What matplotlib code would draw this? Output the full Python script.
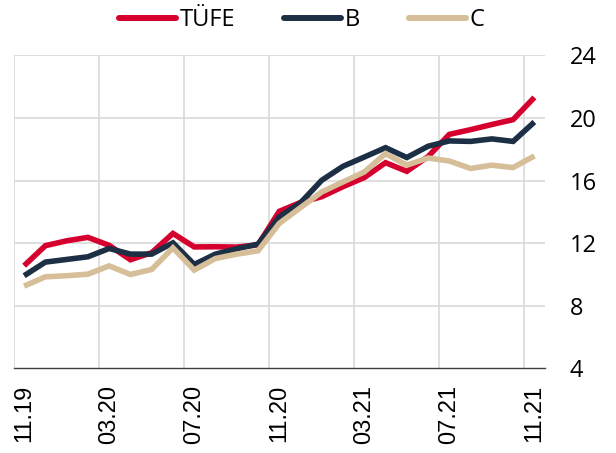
import matplotlib
matplotlib.use("Agg")
import matplotlib.pyplot as plt
from matplotlib.lines import Line2D

months = ["11.19", "12.19", "01.20", "02.20", "03.20", "04.20", "05.20", "06.20",
          "07.20", "08.20", "09.20", "10.20", "11.20", "12.20", "01.21", "02.21",
          "03.21", "04.21", "05.21", "06.21", "07.21", "08.21", "09.21", "10.21", "11.21"]
tufe = [10.56, 11.84, 12.15, 12.37, 11.86, 10.94, 11.39, 12.62, 11.76, 11.77, 11.75, 11.89,
        14.03, 14.60, 14.97, 15.61, 16.19, 17.14, 16.59, 17.53, 18.95, 19.25, 19.58, 19.89, 21.31]
b_core = [9.92, 10.79, 10.96, 11.13, 11.66, 11.30, 11.30, 12.02, 10.64, 11.30, 11.64, 11.94,
          13.68, 14.58, 16.02, 16.91, 17.50, 18.10, 17.47, 18.19, 18.53, 18.50, 18.66, 18.50, 19.74]
c_core = [9.26, 9.85, 9.92, 10.02, 10.55, 10.00, 10.32, 11.70, 10.28, 11.02, 11.30, 11.51,
          13.26, 14.27, 15.27, 15.91, 16.55, 17.72, 16.98, 17.44, 17.25, 16.77, 16.98, 16.83, 17.57]
series_names = ["TÜFE", "B", "C"]
colors = ["#D6002E", "#1C2F45", "#D5BE98"]
yticks = [4, 8, 12, 16, 20, 24]

fig = plt.figure(figsize=(6.16, 4.53), dpi=100)
ax = fig.add_axes([13.5 / 616, 1 - 368.4 / 453, (545 - 13.5) / 616, (368.4 - 55.3) / 453])

x = list(range(len(months)))
lw = 4.0
for data, col in zip([tufe, b_core, c_core], colors):
    ax.plot(x, data, color=col, lw=lw, solid_joinstyle="miter", solid_capstyle="butt", zorder=3)

ax.set_xlim(-0.5, len(months) - 0.5)
ax.set_ylim(4, 24)

# grid
for gx in range(0, len(months) + 1, 4):
    ax.axvline(gx - 0.5, color="#D9D9D9", lw=1.2, zorder=1)
for gy in yticks[1:]:
    ax.axhline(gy, color="#D9D9D9", lw=1.2, zorder=1)

for s in ["top", "left", "right"]:
    ax.spines[s].set_visible(False)
ax.spines["bottom"].set_color("#404040")
ax.spines["bottom"].set_linewidth(1.0)
ax.spines["bottom"].set_zorder(4)

ax.set_xticks(x[::4])
ax.set_xticklabels(months[::4], rotation=90, fontsize=17, family="Liberation Sans", va="top")
ax.tick_params(axis="x", length=0, pad=12)

ax.yaxis.tick_right()
ax.set_yticks(yticks)
ax.set_yticklabels([str(v) for v in yticks], fontsize=17, family="Open Sans")
ax.tick_params(axis="y", length=0, pad=18)

handles = [Line2D([0], [0], color=c, lw=4.3, solid_capstyle="round") for c in colors]
leg = fig.legend(handles, series_names, loc="center", bbox_to_anchor=(0.49, 1 - 20 / 453),
                 ncol=3, frameon=False, handlelength=2.4, handletextpad=0.15,
                 columnspacing=2.1, prop={"family": "Open Sans", "size": 17},
                 borderaxespad=0, borderpad=0)

fig.savefig("out.png", dpi=100)
